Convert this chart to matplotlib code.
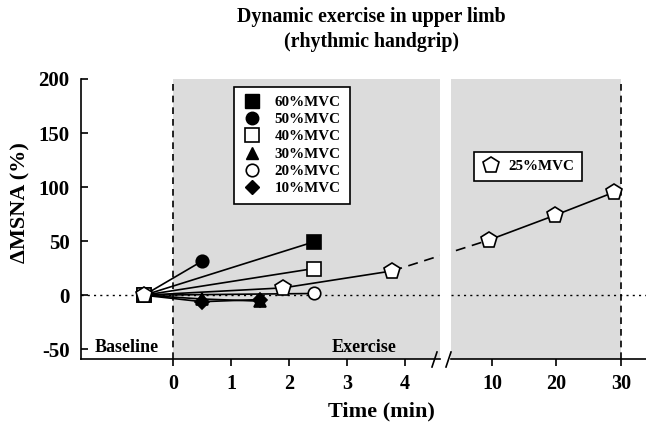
import matplotlib
matplotlib.use("agg")
import matplotlib.pyplot as plt
from matplotlib.lines import Line2D

plt.rcParams["font.family"] = ["Liberation Serif", "DejaVu Serif"]
plt.rcParams["font.weight"] = "bold"
plt.rcParams["axes.unicode_minus"] = False

# values (time in min, delta MSNA in %)
t_60 = [-0.5, 2.43]
v_60 = [0, 49.4]
t_50 = [-0.5, 0.5]
v_50 = [0, 31.5]
t_40 = [-0.5, 2.43]
v_40 = [0, 24.7]
t_30 = [-0.5, 0.5, 1.5]
v_30 = [0, -3.5, -5.5]
t_20 = [-0.5, 2.43]
v_20 = [0, 1.6]
t_10 = [-0.5, 0.5, 1.5]
v_10 = [0, -6, -4]
t_25_short = [-0.5, 1.9, 3.78]
v_25_short = [0, 6.8, 22.5]
t_25_long = [9.5, 19.8, 29]
v_25_long = [51, 74, 95.4]

left_ticks = [0, 1, 2, 3, 4]
right_ticks = [10, 20, 30]
y_ticks = [-50, 0, 50, 100, 150, 200]

W, H = 646, 430
fig = plt.figure(figsize=(W / 100, H / 100), dpi=100)
bot = 1 - 359 / H
hgt = 280 / H
ax1 = fig.add_axes([80.7 / W, bot, (440 - 80.7) / W, hgt])
ax2 = fig.add_axes([451 / W, bot, (W - 451) / W, hgt])

ax1.set_xlim(-1.59, 4.6)
ax2.set_xlim(3.64, 33.9)
for ax in (ax1, ax2):
    ax.set_ylim(-59, 200)
    ax.axhline(0, color="k", lw=1, ls=(0, (1.5, 3)), zorder=1)
    ax.spines["top"].set_visible(False)
    ax.spines["right"].set_visible(False)
    ax.spines["bottom"].set_linewidth(1.2)
    ax.tick_params(axis="x", direction="out", length=5, width=1.2,
                   labelsize=14.5, pad=6)

gray = "#dcdcdc"
ax1.axvspan(0, 4.6, color=gray, lw=0, zorder=0)
ax2.axvspan(3.64, 30, color=gray, lw=0, zorder=0)
ax1.axvline(0, color="k", lw=1.2, ls=(0, (4, 3)), zorder=1)
ax2.axvline(30, color="k", lw=1.2, ls=(0, (4, 3)), zorder=1)

ax1.spines["left"].set_linewidth(1.2)
ax1.set_yticks(y_ticks)
ax1.tick_params(axis="y", direction="in", length=5, width=1.2,
                labelsize=15, pad=8)
ax1.set_xticks(left_ticks)
ax2.spines["left"].set_visible(False)
ax2.set_yticks([])
ax2.set_xticks(right_ticks)

lk = dict(color="k", lw=1.2, mec="k", mew=1.2, zorder=3)
ax1.plot(t_60, v_60, marker="s", ms=10, mfc="k", **lk)
ax1.plot(t_50, v_50, marker="o", ms=9, mfc="k", **lk)
ax1.plot(t_40, v_40, marker="s", ms=10, mfc="white", **lk)
ax1.plot(t_30, v_30, marker="^", ms=9, mfc="k", **lk)
ax1.plot(t_20, v_20, marker="o", ms=9, mfc="white", **lk)
ax1.plot(t_10, v_10, marker="D", ms=7.5, mfc="k", **lk)
lk["zorder"] = 4
ax1.plot(t_25_short, v_25_short, marker="p", ms=12, mfc="white", **lk)
ax2.plot(t_25_long, v_25_long, marker="p", ms=12, mfc="white", **lk)

# dashed segment across the axis break
pa = ax1.transData.transform((t_25_short[-1], v_25_short[-1]))
pb = ax2.transData.transform((t_25_long[0], v_25_long[0]))
for ax in (ax1, ax2):
    inv = ax.transData.inverted()
    a, b = inv.transform(pa), inv.transform(pb)
    ax.plot([a[0], b[0]], [a[1], b[1]], color="k", lw=1.2,
            ls=(0, (6, 4)), zorder=2)

# break marks
for xb in (432, 446):
    fig.add_artist(Line2D([xb / W, (xb + 5) / W], [1 - 367 / H, 1 - 352 / H],
                          color="k", lw=1.2))

ax1.text(-0.79, -48, "Baseline", fontsize=13, ha="center", va="center")
ax1.text(3.29, -48, "Exercise", fontsize=13, ha="center", va="center")

handles = [
    Line2D([], [], ls="none", marker="s", ms=10, mfc="k", mec="k"),
    Line2D([], [], ls="none", marker="o", ms=9, mfc="k", mec="k"),
    Line2D([], [], ls="none", marker="s", ms=10, mfc="white", mec="k", mew=1.2),
    Line2D([], [], ls="none", marker="^", ms=9, mfc="k", mec="k"),
    Line2D([], [], ls="none", marker="o", ms=9, mfc="white", mec="k", mew=1.2),
    Line2D([], [], ls="none", marker="D", ms=7.5, mfc="k", mec="k"),
]
labels = ["60%MVC", "50%MVC", "40%MVC", "30%MVC", "20%MVC", "10%MVC"]
leg = ax1.legend(handles, labels, loc="upper left",
                 bbox_to_anchor=((234 - 80.7) / 359.3, (359 - 86.5) / 280),
                 fontsize=10.8, frameon=True, fancybox=False, framealpha=1,
                 edgecolor="k", handlelength=1.2, handletextpad=0.9,
                 labelspacing=0.25, borderpad=0.6, borderaxespad=0)
leg.get_frame().set_linewidth(1.2)

leg2 = ax2.legend([Line2D([], [], ls="none", marker="p", ms=12, mfc="white",
                          mec="k", mew=1.2)], ["25%MVC"], loc="upper left",
                  bbox_to_anchor=((474 - 451) / 195, (359 - 152) / 280),
                  fontsize=10.8, frameon=True, fancybox=False, framealpha=1,
                  edgecolor="k", handlelength=1.2, handletextpad=0.6,
                  borderpad=0.5, borderaxespad=0)
leg2.get_frame().set_linewidth(1.2)

fig.text(371 / W, 1 - 7 / H, "Dynamic exercise in upper limb\n(rhythmic handgrip)",
         ha="center", va="top", fontsize=14.3, linespacing=1.3)
fig.text(381 / W, 1 - 411 / H, "Time (min)", ha="center", va="center",
         fontsize=16)
fig.text(20 / W, 1 - 203 / H, "\u0394MSNA (%)", ha="center", va="center",
         rotation=90, fontsize=16)

fig.savefig("out.png", dpi=100, facecolor="white")
